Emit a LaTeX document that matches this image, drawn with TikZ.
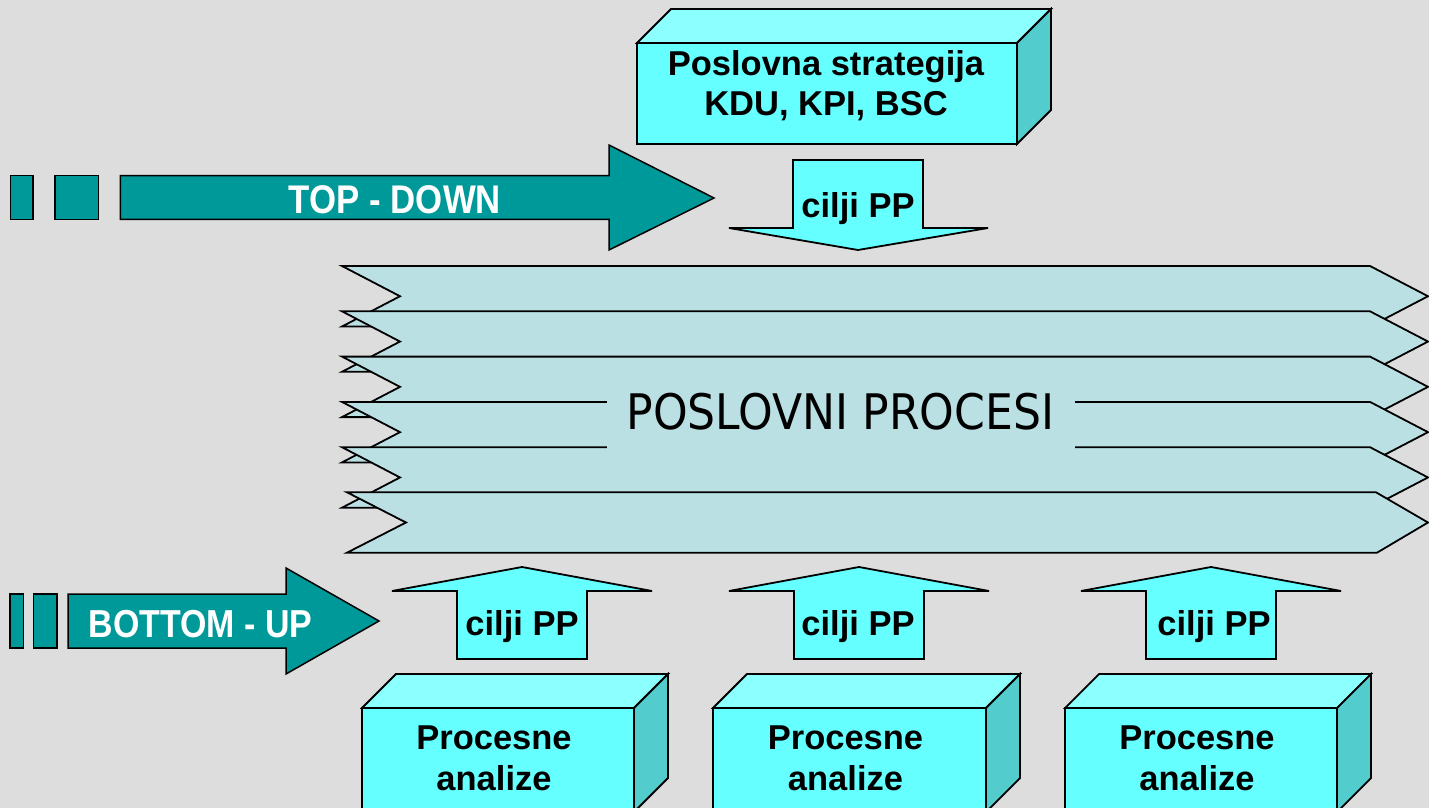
\documentclass[tikz,border=0pt]{standalone}
\usepackage{fontspec}
\setmainfont{Liberation Sans}
\newfontfamily\narrowsans[FakeStretch=0.87]{Liberation Sans}
\newfontfamily\procfont{DejaVu Sans Condensed}

\definecolor{bgcol}{HTML}{DDDDDD}
\definecolor{bandcol}{HTML}{BBE0E3}
\definecolor{tealarrow}{HTML}{009999}
\definecolor{cyanfront}{HTML}{66FFFF}
\definecolor{cyantop}{HTML}{8CFFFF}
\definecolor{cyanside}{HTML}{52CCCC}

\tikzset{
  outline/.style={draw=black, line width=1.8pt, line join=miter},
  bandshape/.style={outline, fill=bandcol},
  tealshape/.style={outline, fill=tealarrow, line width=1.5pt},
  goalshape/.style={outline, fill=cyanfront},
  frontface/.style={outline, fill=cyanfront},
  topface/.style={outline, fill=cyantop},
  sideface/.style={outline, fill=cyanside},
  boldtxt/.style={anchor=base, inner sep=0pt, font=\bfseries\fontsize{#1}{#1}\selectfont},
  whitetxt/.style={anchor=base, inner sep=0pt, text=white,
    font=\narrowsans\bfseries\fontsize{#1}{#1}\selectfont},
}

% cuboid: front face (x0,y0)-(x1,y1), depth 34 up and to the right
\newcommand\cuboidblock[4]{%
  \path[topface] (#1,#2) -- (#1+34,#2-34) -- (#3+34,#2-34) -- (#3,#2) -- cycle;
  \path[sideface] (#3,#2) -- (#3+34,#2-34) -- (#3+34,#4-34) -- (#3,#4) -- cycle;
  \path[frontface] (#1,#2) rectangle (#3,#4);
}

% upward goal arrow centred at x
\newcommand\uparrowshape[1]{%
  \path[goalshape] (#1-65,659) -- (#1-65,591) -- (#1-130,591) -- (#1,567)
    -- (#1+130,591) -- (#1+65,591) -- (#1+65,659) -- cycle;
}

\begin{document}
\begin{tikzpicture}[x=1pt, y=-1pt]
\useasboundingbox (0,0) rectangle (1429,808);
\fill[bgcol] (0,0) rectangle (1429,808);
\clip (0,0) rectangle (1429,808);

% --- strategy block and downward goal arrow
\cuboidblock{637}{43}{1017}{144}
\node[boldtxt=34.5] (strat1) at (826,75) {Poslovna strategija};
\node[boldtxt=34.5] (strat2) at (826,115) {KDU, KPI, BSC};

\path[goalshape] (793,160) -- (923,160) -- (923,228) -- (988,228) -- (858,250)
  -- (729,228) -- (793,228) -- cycle;
\node[boldtxt=34.5] (goaltop) at (858,217) {cilji PP};

% --- TOP - DOWN arrow
\path[tealshape] (10.5,175.7) rectangle (33,219.3);
\path[tealshape] (55,175.7) rectangle (98.7,219.3);
\path[tealshape] (120.3,175.7) -- (609,175.7) -- (609,145) -- (714,198)
  -- (609,250) -- (609,219.3) -- (120.3,219.3) -- cycle;
\node[whitetxt=40] (topdown) at (395,213) {TOP - DOWN};

% --- stacked process bands
\foreach \k in {0,...,4} {
  \pgfmathsetmacro\t{266+45.3*\k}
  \path[bandshape] (342,\t) -- (1370,\t) -- (1428,\t+30.25) -- (1370,\t+60.5)
    -- (342,\t+60.5) -- (400,\t+30.25) -- cycle;
}
\path[bandshape] (347,492.3) -- (1376,492.3) -- (1428,522.5) -- (1377,552.7)
  -- (347,552.7) -- (406,522.5) -- cycle;
\node[anchor=base, fill=bandcol, inner xsep=0pt, inner ysep=0pt,
      minimum width=468pt, text height=31pt, text depth=23pt,
      font=\procfont\fontsize{49}{52}\selectfont] (procesi) at (840.5,429) {POSLOVNI PROCESI};

% --- BOTTOM - UP arrow
\path[tealshape] (10,594) rectangle (23.5,648);
\path[tealshape] (33.5,594) rectangle (57,648);
\path[tealshape] (68,594) -- (286,594) -- (286,568) -- (379,621)
  -- (286,674) -- (286,648) -- (68,648) -- cycle;
\node[whitetxt=39] (bottomup) at (200.5,637) {BOTTOM - UP};

% --- upward goal arrows
\uparrowshape{522}
\uparrowshape{859}
\uparrowshape{1211}
\node[boldtxt=34.5] (goal1) at (522,635) {cilji PP};
\node[boldtxt=34.5] (goal2) at (858,635) {cilji PP};
\node[boldtxt=34.5] (goal3) at (1214,635) {cilji PP};

% --- process analysis blocks
\cuboidblock{362}{708}{634}{812}
\cuboidblock{713}{708}{986}{812}
\cuboidblock{1065}{708}{1337}{812}
\node[boldtxt=34.5] (anl1a) at (494,749) {Procesne};
\node[boldtxt=34.5] (anl1b) at (494,790) {analize};
\node[boldtxt=34.5] (anl2a) at (845.5,749) {Procesne};
\node[boldtxt=34.5] (anl2b) at (845.5,790) {analize};
\node[boldtxt=34.5] (anl3a) at (1197,749) {Procesne};
\node[boldtxt=34.5] (anl3b) at (1197,790) {analize};
\end{tikzpicture}
\end{document}
